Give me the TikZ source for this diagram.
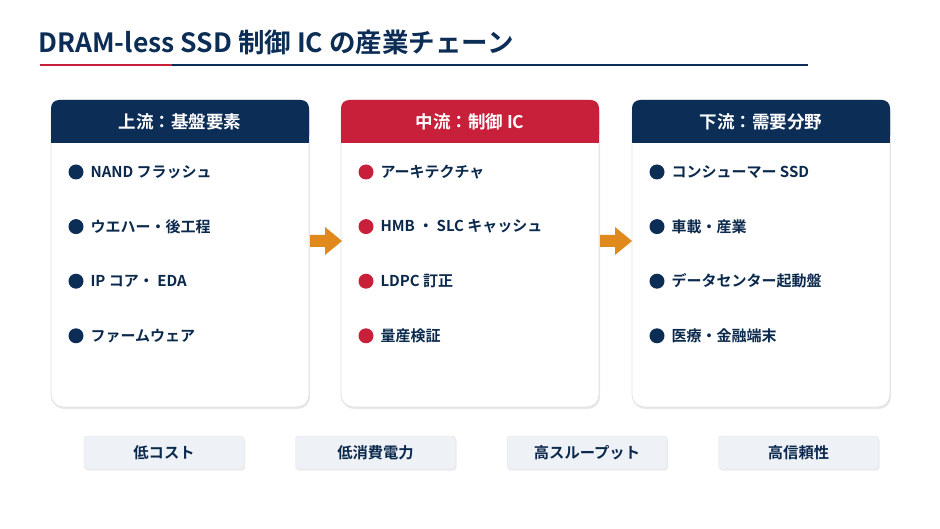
\documentclass[tikz,border=0pt]{standalone}
\usepackage{fontspec}
\setmainfont{Noto Sans CJK JP}[BoldFont={* Bold}]
\usetikzlibrary{positioning,shadows}
\definecolor{navy}{HTML}{0C2D55}
\definecolor{crim}{HTML}{C8203A}
\definecolor{flow}{HTML}{E08A1E}
\definecolor{tagbg}{HTML}{EEF2F6}
\tikzset{>=latex}
\tikzstyle{card}=[draw=black!12,fill=white,rounded corners=12,line width=0.8,
                  drop shadow={shadow xshift=1pt,shadow yshift=-2pt,opacity=0.18}]
\tikzstyle{head}=[rounded corners=6,text=white,font=\bfseries\fontsize{17.5}{20}\selectfont]
\tikzstyle{item}=[anchor=west,font=\bfseries\fontsize{15}{18}\selectfont,text=navy!90!black]
\tikzstyle{tag}=[draw=black!10,fill=tagbg,rounded corners=3,minimum width=160,minimum height=33,
                 font=\bfseries\fontsize{15.3}{18}\selectfont,text=navy!90!black,
                 drop shadow={shadow xshift=1pt,shadow yshift=-1.5pt,opacity=0.15}]
\begin{document}
\begin{tikzpicture}[x=1pt,y=-1pt]
  \useasboundingbox[fill=white] (0,0) rectangle (940,529);

  % TITLE
  \node[anchor=west,text=navy,font=\bfseries\fontsize{26.5}{30}\selectfont] (title) at (35,42)
    {DRAM-less SSD 制御 IC の産業チェーン};
  \draw[navy,line width=1.2] (172,65) -- (808,65);
  \draw[crim,line width=2.4] (40,65) -- (172,65);

  % STAGES
  \foreach \x/\col/\hd/\a/\b/\c/\d [count=\i] in {
      51/navy/上流：基盤要素/NAND フラッシュ/ウエハー・後工程/IP コア・ EDA/ファームウェア,
      341/crim/中流：制御 IC/アーキテクチャ/HMB ・ SLC キャッシュ/LDPC 訂正/量産検証,
      632/navy/下流：需要分野/コンシューマー SSD/車載・産業/データセンター起動盤/医療・金融端末}{
    \draw[card] (\x,100) rectangle ++(258,307);
    \fill[\col,rounded corners=8] (\x,100) rectangle ++(258,43);
    \fill[\col] (\x,130) rectangle ++(258,13);
    \node[head] (head\i) at (\x+129,121.5) {\hd};
    \foreach \t [count=\j, evaluate={\y=172+54.6*(\j-1);}] in {\a,\b,\c,\d}{
      \fill[\col] (\x+25,\y) circle(7.5);
      \node[item] (item\i\j) at (\x+36,\y) {\t};
    }
  }

  % FLOW ARROWS
  \foreach \x [count=\i] in {310,600}{
    \fill[flow] (\x,235) -- ++(15,0) -- ++(0,-8) -- ++(17,14) -- ++(-17,14) -- ++(0,-8) -- ++(-15,0) -- cycle;
  }

  % FEATURE TAGS
  \foreach \x/\t [count=\i] in {164/低コスト,375.5/低消費電力,587/高スループット,798.5/高信頼性}{
    \node[tag] (tag\i) at (\x,452.5) {\t};
  }
\end{tikzpicture}
\end{document}
